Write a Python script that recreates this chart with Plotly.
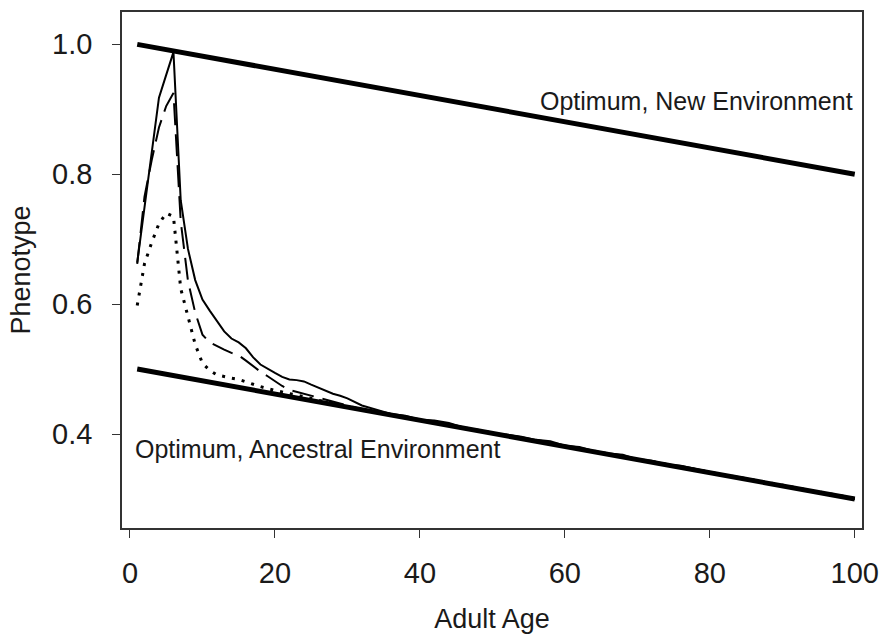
import plotly.graph_objects as go

# Adult age (years) at which phenotypes are recorded
ages = list(range(1, 31)) + list(range(32, 101, 2))

# Mean phenotype by age for three scenarios
pheno_solid = [0.664, 0.749, 0.833, 0.918, 0.953, 0.988, 0.760, 0.685, 0.637, 0.607,
               0.590, 0.573, 0.558, 0.547, 0.541, 0.532, 0.518, 0.507, 0.500, 0.494,
               0.488, 0.484, 0.483, 0.481, 0.476, 0.471, 0.466, 0.462, 0.459, 0.455,
               0.444, 0.437, 0.431, 0.428, 0.422, 0.421, 0.417, 0.410, 0.406, 0.401,
               0.399, 0.396, 0.391, 0.389, 0.382, 0.380, 0.374, 0.370, 0.368, 0.361,
               0.359, 0.353, 0.351, 0.346, 0.341, 0.337, 0.334, 0.329, 0.325, 0.321,
               0.316, 0.312, 0.308, 0.304, 0.300]
pheno_dashed = [0.662, 0.765, 0.822, 0.872, 0.905, 0.925, 0.728, 0.636, 0.587, 0.553,
                0.541, 0.535, 0.530, 0.525, 0.521, 0.513, 0.504, 0.496, 0.489, 0.481,
                0.474, 0.468, 0.465, 0.462, 0.460, 0.457, 0.453, 0.450, 0.447, 0.444,
                0.438, 0.434, 0.430, 0.426, 0.421, 0.418, 0.415, 0.410, 0.405, 0.402,
                0.398, 0.394, 0.390, 0.387, 0.382, 0.378, 0.373, 0.370, 0.366, 0.361,
                0.357, 0.353, 0.349, 0.345, 0.341, 0.337, 0.333, 0.329, 0.325, 0.320,
                0.316, 0.312, 0.308, 0.304, 0.300]
pheno_dotted = [0.598, 0.662, 0.695, 0.724, 0.740, 0.735, 0.624, 0.580, 0.538, 0.509,
                0.498, 0.491, 0.488, 0.486, 0.484, 0.480, 0.476, 0.473, 0.470, 0.467,
                0.465, 0.462, 0.460, 0.457, 0.455, 0.452, 0.450, 0.447, 0.445, 0.442,
                0.438, 0.434, 0.430, 0.425, 0.421, 0.417, 0.413, 0.409, 0.405, 0.401,
                0.397, 0.393, 0.389, 0.385, 0.381, 0.377, 0.373, 0.369, 0.365, 0.361,
                0.357, 0.353, 0.349, 0.345, 0.341, 0.337, 0.333, 0.329, 0.325, 0.321,
                0.317, 0.313, 0.309, 0.305, 0.301]

# Optimum phenotype lines (endpoints)
opt_ages = [1, 100]
opt_new = [1.0, 0.8]
opt_ancestral = [0.5, 0.3]

x_ticks = [0, 20, 40, 60, 80, 100]
y_ticks = [0.4, 0.6, 0.8, 1.0]
y_tick_text = ["0.4", "0.6", "0.8", "1.0"]

FONT = "Arial, 'Liberation Sans', sans-serif"

fig = go.Figure()

fig.add_trace(go.Scatter(x=opt_ages, y=opt_new, mode="lines",
                         line=dict(color="black", width=5), hoverinfo="skip"))
fig.add_trace(go.Scatter(x=opt_ages, y=opt_ancestral, mode="lines",
                         line=dict(color="black", width=5), hoverinfo="skip"))
fig.add_trace(go.Scatter(x=ages, y=pheno_dotted, mode="lines",
                         line=dict(color="black", width=3, dash="3px,7px")))
fig.add_trace(go.Scatter(x=ages, y=pheno_dashed, mode="lines",
                         line=dict(color="black", width=2, dash="22px,9px")))
fig.add_trace(go.Scatter(x=ages, y=pheno_solid, mode="lines",
                         line=dict(color="black", width=2)))

fig.add_annotation(x=100, y=0.913, xref="x", yref="y", text="Optimum, New Environment",
                   showarrow=False, xanchor="right", yanchor="middle",
                   font=dict(family=FONT, size=25, color="#1a1a1a"))
fig.add_annotation(x=0.45, y=0.377, xref="x", yref="y", text="Optimum, Ancestral Environment",
                   showarrow=False, xanchor="left", yanchor="middle",
                   font=dict(family=FONT, size=25, color="#1a1a1a"))

fig.update_layout(
    width=889, height=639,
    margin=dict(l=122, r=20, t=10, b=107),
    paper_bgcolor="white", plot_bgcolor="white",
    showlegend=False,
    font=dict(family=FONT, color="#1a1a1a"),
)
fig.update_xaxes(
    range=[-1.1, 101], tickvals=x_ticks, ticks="outside", ticklen=8, tickwidth=1,
    tickcolor="#333", showline=True, linecolor="#333", linewidth=1.5, mirror=True,
    showgrid=False, zeroline=False, tickfont=dict(size=29), ticklabelstandoff=10,
    title=dict(text="Adult Age", font=dict(size=27), standoff=22),
)
fig.update_yaxes(
    range=[0.2553, 1.0498], tickvals=y_ticks, ticktext=y_tick_text, ticks="outside",
    ticklen=8, tickwidth=1, tickcolor="#333", showline=True, linecolor="#333",
    linewidth=1.5, mirror=True, showgrid=False, zeroline=False, tickfont=dict(size=29),
    ticklabelstandoff=14,
    title=dict(text="Phenotype", font=dict(size=27), standoff=14),
)

fig.write_html("out.html")
